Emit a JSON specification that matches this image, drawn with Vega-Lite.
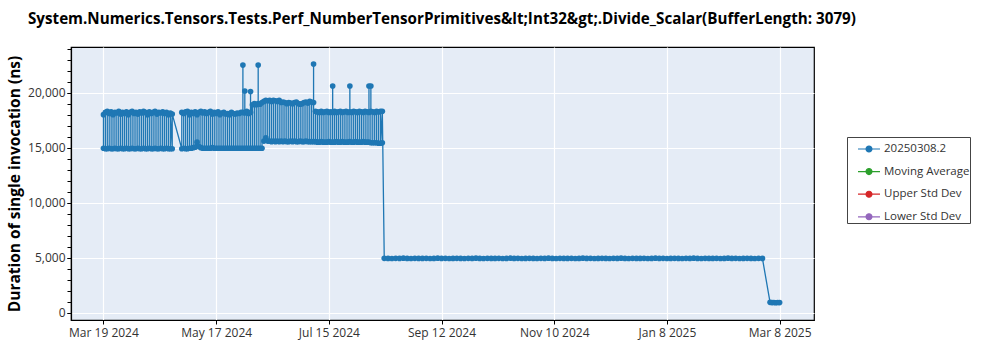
{
 "$schema": "https://vega.github.io/schema/vega-lite/v6.json",
 "autosize": {"type": "none"},
 "padding": {"left": 71, "top": 47, "right": 186, "bottom": 30},
 "width": 743,
 "height": 273,
 "background": "white",
 "config": {
  "view": {"fill": "#E5ECF6", "stroke": "#000", "strokeWidth": 1.2},
  "font": "Open Sans",
  "axis": {"labelFont": "Open Sans", "labelFontSize": 12, "labelColor": "#333", "tickColor": "#000", "tickSize": 4, "domainColor": "#000", "domainWidth": 1.2, "gridColor": "#ffffff", "gridWidth": 1.2, "gridOpacity": 1}
 },
 "title": {"text": "System.Numerics.Tensors.Tests.Perf_NumberTensorPrimitives&lt;Int32&gt;.Divide_Scalar(BufferLength: 3079)", "anchor": "start", "frame": "group", "dx": -43, "font": "Open Sans", "fontSize": 15.2, "fontWeight": "bold", "color": "#000", "offset": 20},
 "data": {"values": [
  {"date":"2024-03-19","ns":18000,"build":"20250308.2"},{"date":"2024-03-19","ns":14950,"build":"20250308.2"},
  {"date":"2024-03-20","ns":14900,"build":"20250308.2"},{"date":"2024-03-20","ns":18200,"build":"20250308.2"},
  {"date":"2024-03-21","ns":18300,"build":"20250308.2"},{"date":"2024-03-21","ns":14900,"build":"20250308.2"},
  {"date":"2024-03-22","ns":14950,"build":"20250308.2"},{"date":"2024-03-22","ns":18100,"build":"20250308.2"},
  {"date":"2024-03-23","ns":18250,"build":"20250308.2"},{"date":"2024-03-23","ns":14900,"build":"20250308.2"},
  {"date":"2024-03-24","ns":14900,"build":"20250308.2"},{"date":"2024-03-24","ns":18000,"build":"20250308.2"},
  {"date":"2024-03-25","ns":18200,"build":"20250308.2"},{"date":"2024-03-25","ns":14950,"build":"20250308.2"},
  {"date":"2024-03-26","ns":14900,"build":"20250308.2"},{"date":"2024-03-26","ns":18150,"build":"20250308.2"},
  {"date":"2024-03-27","ns":18300,"build":"20250308.2"},{"date":"2024-03-27","ns":14900,"build":"20250308.2"},
  {"date":"2024-03-28","ns":14950,"build":"20250308.2"},{"date":"2024-03-28","ns":18050,"build":"20250308.2"},
  {"date":"2024-03-29","ns":18200,"build":"20250308.2"},{"date":"2024-03-29","ns":14900,"build":"20250308.2"},
  {"date":"2024-03-30","ns":14900,"build":"20250308.2"},{"date":"2024-03-30","ns":18100,"build":"20250308.2"},
  {"date":"2024-03-31","ns":18250,"build":"20250308.2"},{"date":"2024-03-31","ns":14950,"build":"20250308.2"},
  {"date":"2024-04-01","ns":14900,"build":"20250308.2"},{"date":"2024-04-01","ns":18000,"build":"20250308.2"},
  {"date":"2024-04-02","ns":18200,"build":"20250308.2"},{"date":"2024-04-02","ns":14900,"build":"20250308.2"},
  {"date":"2024-04-03","ns":14950,"build":"20250308.2"},{"date":"2024-04-03","ns":18300,"build":"20250308.2"},
  {"date":"2024-04-04","ns":18100,"build":"20250308.2"},{"date":"2024-04-04","ns":14900,"build":"20250308.2"},
  {"date":"2024-04-05","ns":14900,"build":"20250308.2"},{"date":"2024-04-05","ns":18200,"build":"20250308.2"},
  {"date":"2024-04-06","ns":18050,"build":"20250308.2"},{"date":"2024-04-06","ns":14950,"build":"20250308.2"},
  {"date":"2024-04-07","ns":14900,"build":"20250308.2"},{"date":"2024-04-07","ns":18250,"build":"20250308.2"},
  {"date":"2024-04-08","ns":18150,"build":"20250308.2"},{"date":"2024-04-08","ns":14900,"build":"20250308.2"},
  {"date":"2024-04-09","ns":14950,"build":"20250308.2"},{"date":"2024-04-09","ns":18300,"build":"20250308.2"},
  {"date":"2024-04-10","ns":18200,"build":"20250308.2"},{"date":"2024-04-10","ns":14900,"build":"20250308.2"},
  {"date":"2024-04-11","ns":14900,"build":"20250308.2"},{"date":"2024-04-11","ns":18000,"build":"20250308.2"},
  {"date":"2024-04-12","ns":18250,"build":"20250308.2"},{"date":"2024-04-12","ns":14950,"build":"20250308.2"},
  {"date":"2024-04-13","ns":14900,"build":"20250308.2"},{"date":"2024-04-13","ns":18100,"build":"20250308.2"},
  {"date":"2024-04-14","ns":18200,"build":"20250308.2"},{"date":"2024-04-14","ns":14900,"build":"20250308.2"},
  {"date":"2024-04-15","ns":14950,"build":"20250308.2"},{"date":"2024-04-15","ns":18300,"build":"20250308.2"},
  {"date":"2024-04-16","ns":18050,"build":"20250308.2"},{"date":"2024-04-16","ns":14900,"build":"20250308.2"},
  {"date":"2024-04-17","ns":14900,"build":"20250308.2"},{"date":"2024-04-17","ns":18200,"build":"20250308.2"},
  {"date":"2024-04-18","ns":18150,"build":"20250308.2"},{"date":"2024-04-18","ns":14950,"build":"20250308.2"},
  {"date":"2024-04-19","ns":14900,"build":"20250308.2"},{"date":"2024-04-19","ns":18250,"build":"20250308.2"},
  {"date":"2024-04-20","ns":18100,"build":"20250308.2"},{"date":"2024-04-20","ns":14900,"build":"20250308.2"},
  {"date":"2024-04-21","ns":14950,"build":"20250308.2"},{"date":"2024-04-21","ns":18200,"build":"20250308.2"},
  {"date":"2024-04-22","ns":18000,"build":"20250308.2"},{"date":"2024-04-22","ns":14900,"build":"20250308.2"},
  {"date":"2024-04-23","ns":14900,"build":"20250308.2"},{"date":"2024-04-23","ns":18150,"build":"20250308.2"},
  {"date":"2024-04-24","ns":14900,"build":"20250308.2"},{"date":"2024-04-24","ns":18050,"build":"20250308.2"},
  {"date":"2024-04-29","ns":14900,"build":"20250308.2"},{"date":"2024-04-29","ns":18200,"build":"20250308.2"},
  {"date":"2024-04-30","ns":18100,"build":"20250308.2"},{"date":"2024-04-30","ns":14950,"build":"20250308.2"},
  {"date":"2024-05-01","ns":14900,"build":"20250308.2"},{"date":"2024-05-01","ns":18250,"build":"20250308.2"},
  {"date":"2024-05-02","ns":18300,"build":"20250308.2"},{"date":"2024-05-02","ns":14900,"build":"20250308.2"},
  {"date":"2024-05-03","ns":14950,"build":"20250308.2"},{"date":"2024-05-03","ns":18000,"build":"20250308.2"},
  {"date":"2024-05-04","ns":18200,"build":"20250308.2"},{"date":"2024-05-04","ns":14950,"build":"20250308.2"},
  {"date":"2024-05-05","ns":15000,"build":"20250308.2"},{"date":"2024-05-05","ns":18100,"build":"20250308.2"},
  {"date":"2024-05-06","ns":18250,"build":"20250308.2"},{"date":"2024-05-06","ns":15050,"build":"20250308.2"},
  {"date":"2024-05-07","ns":15500,"build":"20250308.2"},{"date":"2024-05-07","ns":18000,"build":"20250308.2"},
  {"date":"2024-05-08","ns":18200,"build":"20250308.2"},{"date":"2024-05-08","ns":15100,"build":"20250308.2"},
  {"date":"2024-05-09","ns":15000,"build":"20250308.2"},{"date":"2024-05-09","ns":18300,"build":"20250308.2"},
  {"date":"2024-05-10","ns":18150,"build":"20250308.2"},{"date":"2024-05-10","ns":14950,"build":"20250308.2"},
  {"date":"2024-05-11","ns":14950,"build":"20250308.2"},{"date":"2024-05-11","ns":18250,"build":"20250308.2"},
  {"date":"2024-05-12","ns":18100,"build":"20250308.2"},{"date":"2024-05-12","ns":14950,"build":"20250308.2"},
  {"date":"2024-05-13","ns":14950,"build":"20250308.2"},{"date":"2024-05-13","ns":18200,"build":"20250308.2"},
  {"date":"2024-05-14","ns":18300,"build":"20250308.2"},{"date":"2024-05-14","ns":14950,"build":"20250308.2"},
  {"date":"2024-05-15","ns":15000,"build":"20250308.2"},{"date":"2024-05-15","ns":18050,"build":"20250308.2"},
  {"date":"2024-05-16","ns":18200,"build":"20250308.2"},{"date":"2024-05-16","ns":14950,"build":"20250308.2"},
  {"date":"2024-05-17","ns":14950,"build":"20250308.2"},{"date":"2024-05-17","ns":18100,"build":"20250308.2"},
  {"date":"2024-05-18","ns":18250,"build":"20250308.2"},{"date":"2024-05-18","ns":14950,"build":"20250308.2"},
  {"date":"2024-05-19","ns":14950,"build":"20250308.2"},{"date":"2024-05-19","ns":18000,"build":"20250308.2"},
  {"date":"2024-05-20","ns":18150,"build":"20250308.2"},{"date":"2024-05-20","ns":14950,"build":"20250308.2"},
  {"date":"2024-05-21","ns":14950,"build":"20250308.2"},{"date":"2024-05-21","ns":18200,"build":"20250308.2"},
  {"date":"2024-05-22","ns":18050,"build":"20250308.2"},{"date":"2024-05-22","ns":14950,"build":"20250308.2"},
  {"date":"2024-05-23","ns":14950,"build":"20250308.2"},{"date":"2024-05-23","ns":18100,"build":"20250308.2"},
  {"date":"2024-05-24","ns":18000,"build":"20250308.2"},{"date":"2024-05-24","ns":14950,"build":"20250308.2"},
  {"date":"2024-05-25","ns":14950,"build":"20250308.2"},{"date":"2024-05-25","ns":18200,"build":"20250308.2"},
  {"date":"2024-05-26","ns":18100,"build":"20250308.2"},{"date":"2024-05-26","ns":14950,"build":"20250308.2"},
  {"date":"2024-05-27","ns":14950,"build":"20250308.2"},{"date":"2024-05-27","ns":18050,"build":"20250308.2"},
  {"date":"2024-05-28","ns":18150,"build":"20250308.2"},{"date":"2024-05-28","ns":14950,"build":"20250308.2"},
  {"date":"2024-05-29","ns":14950,"build":"20250308.2"},{"date":"2024-05-29","ns":18100,"build":"20250308.2"},
  {"date":"2024-05-30","ns":18200,"build":"20250308.2"},{"date":"2024-05-30","ns":14950,"build":"20250308.2"},
  {"date":"2024-05-31","ns":14950,"build":"20250308.2"},{"date":"2024-05-31","ns":22500,"build":"20250308.2"},{"date":"2024-05-31","ns":18200,"build":"20250308.2"},
  {"date":"2024-06-01","ns":18150,"build":"20250308.2"},{"date":"2024-06-01","ns":20150,"build":"20250308.2"},{"date":"2024-06-01","ns":14950,"build":"20250308.2"},
  {"date":"2024-06-02","ns":14950,"build":"20250308.2"},{"date":"2024-06-02","ns":18300,"build":"20250308.2"},
  {"date":"2024-06-03","ns":18100,"build":"20250308.2"},{"date":"2024-06-03","ns":14950,"build":"20250308.2"},
  {"date":"2024-06-04","ns":14950,"build":"20250308.2"},{"date":"2024-06-04","ns":20100,"build":"20250308.2"},{"date":"2024-06-04","ns":18200,"build":"20250308.2"},
  {"date":"2024-06-05","ns":18900,"build":"20250308.2"},{"date":"2024-06-05","ns":14950,"build":"20250308.2"},
  {"date":"2024-06-06","ns":14950,"build":"20250308.2"},{"date":"2024-06-06","ns":19000,"build":"20250308.2"},
  {"date":"2024-06-07","ns":18900,"build":"20250308.2"},{"date":"2024-06-07","ns":14950,"build":"20250308.2"},
  {"date":"2024-06-08","ns":14950,"build":"20250308.2"},{"date":"2024-06-08","ns":22500,"build":"20250308.2"},{"date":"2024-06-08","ns":19000,"build":"20250308.2"},
  {"date":"2024-06-09","ns":18950,"build":"20250308.2"},{"date":"2024-06-09","ns":14950,"build":"20250308.2"},
  {"date":"2024-06-10","ns":14950,"build":"20250308.2"},{"date":"2024-06-10","ns":19100,"build":"20250308.2"},
  {"date":"2024-06-11","ns":19200,"build":"20250308.2"},{"date":"2024-06-11","ns":15600,"build":"20250308.2"},
  {"date":"2024-06-12","ns":15900,"build":"20250308.2"},{"date":"2024-06-12","ns":19300,"build":"20250308.2"},
  {"date":"2024-06-13","ns":19250,"build":"20250308.2"},{"date":"2024-06-13","ns":15600,"build":"20250308.2"},
  {"date":"2024-06-14","ns":15600,"build":"20250308.2"},{"date":"2024-06-14","ns":19300,"build":"20250308.2"},
  {"date":"2024-06-15","ns":19200,"build":"20250308.2"},{"date":"2024-06-15","ns":15550,"build":"20250308.2"},
  {"date":"2024-06-16","ns":15600,"build":"20250308.2"},{"date":"2024-06-16","ns":19300,"build":"20250308.2"},
  {"date":"2024-06-17","ns":19250,"build":"20250308.2"},{"date":"2024-06-17","ns":15550,"build":"20250308.2"},
  {"date":"2024-06-18","ns":15600,"build":"20250308.2"},{"date":"2024-06-18","ns":19200,"build":"20250308.2"},
  {"date":"2024-06-19","ns":19300,"build":"20250308.2"},{"date":"2024-06-19","ns":15550,"build":"20250308.2"},
  {"date":"2024-06-20","ns":15600,"build":"20250308.2"},{"date":"2024-06-20","ns":19100,"build":"20250308.2"},
  {"date":"2024-06-21","ns":19150,"build":"20250308.2"},{"date":"2024-06-21","ns":15550,"build":"20250308.2"},
  {"date":"2024-06-22","ns":15600,"build":"20250308.2"},{"date":"2024-06-22","ns":19100,"build":"20250308.2"},
  {"date":"2024-06-23","ns":19000,"build":"20250308.2"},{"date":"2024-06-23","ns":15550,"build":"20250308.2"},
  {"date":"2024-06-24","ns":15550,"build":"20250308.2"},{"date":"2024-06-24","ns":19100,"build":"20250308.2"},
  {"date":"2024-06-25","ns":19050,"build":"20250308.2"},{"date":"2024-06-25","ns":15600,"build":"20250308.2"},
  {"date":"2024-06-26","ns":15550,"build":"20250308.2"},{"date":"2024-06-26","ns":19000,"build":"20250308.2"},
  {"date":"2024-06-27","ns":19100,"build":"20250308.2"},{"date":"2024-06-27","ns":15600,"build":"20250308.2"},
  {"date":"2024-06-28","ns":15550,"build":"20250308.2"},{"date":"2024-06-28","ns":19150,"build":"20250308.2"},
  {"date":"2024-06-29","ns":19000,"build":"20250308.2"},{"date":"2024-06-29","ns":15550,"build":"20250308.2"},
  {"date":"2024-06-30","ns":15600,"build":"20250308.2"},{"date":"2024-06-30","ns":18950,"build":"20250308.2"},
  {"date":"2024-07-01","ns":19000,"build":"20250308.2"},{"date":"2024-07-01","ns":15550,"build":"20250308.2"},
  {"date":"2024-07-02","ns":15550,"build":"20250308.2"},{"date":"2024-07-02","ns":19100,"build":"20250308.2"},
  {"date":"2024-07-03","ns":19150,"build":"20250308.2"},{"date":"2024-07-03","ns":15600,"build":"20250308.2"},
  {"date":"2024-07-04","ns":15550,"build":"20250308.2"},{"date":"2024-07-04","ns":19050,"build":"20250308.2"},
  {"date":"2024-07-05","ns":19200,"build":"20250308.2"},{"date":"2024-07-05","ns":15550,"build":"20250308.2"},
  {"date":"2024-07-06","ns":15550,"build":"20250308.2"},{"date":"2024-07-06","ns":19150,"build":"20250308.2"},
  {"date":"2024-07-07","ns":19100,"build":"20250308.2"},{"date":"2024-07-07","ns":22600,"build":"20250308.2"},{"date":"2024-07-07","ns":15550,"build":"20250308.2"},
  {"date":"2024-07-08","ns":15550,"build":"20250308.2"},{"date":"2024-07-08","ns":18300,"build":"20250308.2"},
  {"date":"2024-07-09","ns":18250,"build":"20250308.2"},{"date":"2024-07-09","ns":15500,"build":"20250308.2"},
  {"date":"2024-07-10","ns":15500,"build":"20250308.2"},{"date":"2024-07-10","ns":18200,"build":"20250308.2"},
  {"date":"2024-07-11","ns":18300,"build":"20250308.2"},{"date":"2024-07-11","ns":15550,"build":"20250308.2"},
  {"date":"2024-07-12","ns":15500,"build":"20250308.2"},{"date":"2024-07-12","ns":18200,"build":"20250308.2"},
  {"date":"2024-07-13","ns":18250,"build":"20250308.2"},{"date":"2024-07-13","ns":15500,"build":"20250308.2"},
  {"date":"2024-07-14","ns":15500,"build":"20250308.2"},{"date":"2024-07-14","ns":18300,"build":"20250308.2"},
  {"date":"2024-07-15","ns":18200,"build":"20250308.2"},{"date":"2024-07-15","ns":15550,"build":"20250308.2"},
  {"date":"2024-07-16","ns":15500,"build":"20250308.2"},{"date":"2024-07-16","ns":18250,"build":"20250308.2"},
  {"date":"2024-07-17","ns":18200,"build":"20250308.2"},{"date":"2024-07-17","ns":20600,"build":"20250308.2"},{"date":"2024-07-17","ns":15500,"build":"20250308.2"},
  {"date":"2024-07-18","ns":15500,"build":"20250308.2"},{"date":"2024-07-18","ns":18300,"build":"20250308.2"},
  {"date":"2024-07-19","ns":18200,"build":"20250308.2"},{"date":"2024-07-19","ns":15550,"build":"20250308.2"},
  {"date":"2024-07-20","ns":15500,"build":"20250308.2"},{"date":"2024-07-20","ns":18250,"build":"20250308.2"},
  {"date":"2024-07-21","ns":18300,"build":"20250308.2"},{"date":"2024-07-21","ns":15500,"build":"20250308.2"},
  {"date":"2024-07-22","ns":15550,"build":"20250308.2"},{"date":"2024-07-22","ns":18200,"build":"20250308.2"},
  {"date":"2024-07-23","ns":18250,"build":"20250308.2"},{"date":"2024-07-23","ns":15500,"build":"20250308.2"},
  {"date":"2024-07-24","ns":15500,"build":"20250308.2"},{"date":"2024-07-24","ns":18300,"build":"20250308.2"},
  {"date":"2024-07-25","ns":18200,"build":"20250308.2"},{"date":"2024-07-25","ns":15500,"build":"20250308.2"},
  {"date":"2024-07-26","ns":15550,"build":"20250308.2"},{"date":"2024-07-26","ns":20600,"build":"20250308.2"},{"date":"2024-07-26","ns":18250,"build":"20250308.2"},
  {"date":"2024-07-27","ns":18200,"build":"20250308.2"},{"date":"2024-07-27","ns":15500,"build":"20250308.2"},
  {"date":"2024-07-28","ns":15500,"build":"20250308.2"},{"date":"2024-07-28","ns":18300,"build":"20250308.2"},
  {"date":"2024-07-29","ns":18250,"build":"20250308.2"},{"date":"2024-07-29","ns":15550,"build":"20250308.2"},
  {"date":"2024-07-30","ns":15500,"build":"20250308.2"},{"date":"2024-07-30","ns":18200,"build":"20250308.2"},
  {"date":"2024-07-31","ns":18300,"build":"20250308.2"},{"date":"2024-07-31","ns":15500,"build":"20250308.2"},
  {"date":"2024-08-01","ns":15500,"build":"20250308.2"},{"date":"2024-08-01","ns":18250,"build":"20250308.2"},
  {"date":"2024-08-02","ns":18200,"build":"20250308.2"},{"date":"2024-08-02","ns":15550,"build":"20250308.2"},
  {"date":"2024-08-03","ns":15500,"build":"20250308.2"},{"date":"2024-08-03","ns":18300,"build":"20250308.2"},
  {"date":"2024-08-04","ns":18250,"build":"20250308.2"},{"date":"2024-08-04","ns":15500,"build":"20250308.2"},
  {"date":"2024-08-05","ns":15500,"build":"20250308.2"},{"date":"2024-08-05","ns":20600,"build":"20250308.2"},{"date":"2024-08-05","ns":18200,"build":"20250308.2"},
  {"date":"2024-08-06","ns":18300,"build":"20250308.2"},{"date":"2024-08-06","ns":20600,"build":"20250308.2"},{"date":"2024-08-06","ns":15450,"build":"20250308.2"},
  {"date":"2024-08-07","ns":15450,"build":"20250308.2"},{"date":"2024-08-07","ns":18250,"build":"20250308.2"},
  {"date":"2024-08-08","ns":18200,"build":"20250308.2"},{"date":"2024-08-08","ns":15450,"build":"20250308.2"},
  {"date":"2024-08-09","ns":15450,"build":"20250308.2"},{"date":"2024-08-09","ns":18300,"build":"20250308.2"},
  {"date":"2024-08-10","ns":18250,"build":"20250308.2"},{"date":"2024-08-10","ns":15400,"build":"20250308.2"},
  {"date":"2024-08-11","ns":15400,"build":"20250308.2"},{"date":"2024-08-11","ns":18300,"build":"20250308.2"},
  {"date":"2024-08-12","ns":15450,"build":"20250308.2"},{"date":"2024-08-12","ns":18300,"build":"20250308.2"},
  {"date":"2024-08-13","ns":4960,"build":"20250308.2"},{"date":"2024-08-15","ns":4950,"build":"20250308.2"},
  {"date":"2024-08-17","ns":4940,"build":"20250308.2"},{"date":"2024-08-19","ns":4960,"build":"20250308.2"},
  {"date":"2024-08-21","ns":4950,"build":"20250308.2"},{"date":"2024-08-23","ns":4970,"build":"20250308.2"},
  {"date":"2024-08-25","ns":4950,"build":"20250308.2"},{"date":"2024-08-27","ns":4940,"build":"20250308.2"},
  {"date":"2024-08-29","ns":4960,"build":"20250308.2"},{"date":"2024-08-31","ns":4950,"build":"20250308.2"},
  {"date":"2024-09-02","ns":4950,"build":"20250308.2"},{"date":"2024-09-04","ns":4960,"build":"20250308.2"},
  {"date":"2024-09-06","ns":4940,"build":"20250308.2"},{"date":"2024-09-08","ns":4950,"build":"20250308.2"},
  {"date":"2024-09-10","ns":4970,"build":"20250308.2"},{"date":"2024-09-12","ns":4950,"build":"20250308.2"},
  {"date":"2024-09-14","ns":4960,"build":"20250308.2"},{"date":"2024-09-16","ns":4940,"build":"20250308.2"},
  {"date":"2024-09-18","ns":4950,"build":"20250308.2"},{"date":"2024-09-20","ns":4960,"build":"20250308.2"},
  {"date":"2024-09-22","ns":4950,"build":"20250308.2"},{"date":"2024-09-24","ns":4940,"build":"20250308.2"},
  {"date":"2024-09-26","ns":4960,"build":"20250308.2"},{"date":"2024-09-28","ns":4950,"build":"20250308.2"},
  {"date":"2024-09-30","ns":4970,"build":"20250308.2"},{"date":"2024-10-02","ns":4950,"build":"20250308.2"},
  {"date":"2024-10-04","ns":4940,"build":"20250308.2"},{"date":"2024-10-06","ns":4960,"build":"20250308.2"},
  {"date":"2024-10-08","ns":4950,"build":"20250308.2"},{"date":"2024-10-10","ns":4950,"build":"20250308.2"},
  {"date":"2024-10-12","ns":4960,"build":"20250308.2"},{"date":"2024-10-14","ns":4940,"build":"20250308.2"},
  {"date":"2024-10-16","ns":4950,"build":"20250308.2"},{"date":"2024-10-18","ns":4970,"build":"20250308.2"},
  {"date":"2024-10-20","ns":4950,"build":"20250308.2"},{"date":"2024-10-22","ns":4960,"build":"20250308.2"},
  {"date":"2024-10-24","ns":4940,"build":"20250308.2"},{"date":"2024-10-26","ns":4950,"build":"20250308.2"},
  {"date":"2024-10-28","ns":4960,"build":"20250308.2"},{"date":"2024-10-30","ns":4950,"build":"20250308.2"},
  {"date":"2024-11-01","ns":4940,"build":"20250308.2"},{"date":"2024-11-03","ns":4960,"build":"20250308.2"},
  {"date":"2024-11-05","ns":4950,"build":"20250308.2"},{"date":"2024-11-07","ns":4970,"build":"20250308.2"},
  {"date":"2024-11-09","ns":4950,"build":"20250308.2"},{"date":"2024-11-11","ns":4940,"build":"20250308.2"},
  {"date":"2024-11-13","ns":4960,"build":"20250308.2"},{"date":"2024-11-15","ns":4950,"build":"20250308.2"},
  {"date":"2024-11-17","ns":4950,"build":"20250308.2"},{"date":"2024-11-19","ns":4960,"build":"20250308.2"},
  {"date":"2024-11-21","ns":4940,"build":"20250308.2"},{"date":"2024-11-23","ns":4950,"build":"20250308.2"},
  {"date":"2024-11-25","ns":4970,"build":"20250308.2"},{"date":"2024-11-27","ns":4950,"build":"20250308.2"},
  {"date":"2024-11-29","ns":4960,"build":"20250308.2"},{"date":"2024-12-01","ns":4940,"build":"20250308.2"},
  {"date":"2024-12-03","ns":4950,"build":"20250308.2"},{"date":"2024-12-05","ns":4960,"build":"20250308.2"},
  {"date":"2024-12-07","ns":4950,"build":"20250308.2"},{"date":"2024-12-09","ns":4940,"build":"20250308.2"},
  {"date":"2024-12-11","ns":4960,"build":"20250308.2"},{"date":"2024-12-13","ns":4950,"build":"20250308.2"},
  {"date":"2024-12-15","ns":4970,"build":"20250308.2"},{"date":"2024-12-17","ns":4950,"build":"20250308.2"},
  {"date":"2024-12-19","ns":4940,"build":"20250308.2"},{"date":"2024-12-21","ns":4960,"build":"20250308.2"},
  {"date":"2024-12-23","ns":4950,"build":"20250308.2"},{"date":"2024-12-25","ns":4950,"build":"20250308.2"},
  {"date":"2024-12-27","ns":4960,"build":"20250308.2"},{"date":"2024-12-29","ns":4940,"build":"20250308.2"},
  {"date":"2024-12-31","ns":4950,"build":"20250308.2"},{"date":"2025-01-02","ns":4970,"build":"20250308.2"},
  {"date":"2025-01-04","ns":4950,"build":"20250308.2"},{"date":"2025-01-06","ns":4960,"build":"20250308.2"},
  {"date":"2025-01-08","ns":4940,"build":"20250308.2"},{"date":"2025-01-10","ns":4950,"build":"20250308.2"},
  {"date":"2025-01-12","ns":4960,"build":"20250308.2"},{"date":"2025-01-14","ns":4950,"build":"20250308.2"},
  {"date":"2025-01-16","ns":4940,"build":"20250308.2"},{"date":"2025-01-18","ns":4960,"build":"20250308.2"},
  {"date":"2025-01-20","ns":4950,"build":"20250308.2"},{"date":"2025-01-22","ns":4970,"build":"20250308.2"},
  {"date":"2025-01-24","ns":4950,"build":"20250308.2"},{"date":"2025-01-26","ns":4940,"build":"20250308.2"},
  {"date":"2025-01-28","ns":4960,"build":"20250308.2"},{"date":"2025-01-30","ns":4950,"build":"20250308.2"},
  {"date":"2025-02-01","ns":4950,"build":"20250308.2"},{"date":"2025-02-03","ns":4960,"build":"20250308.2"},
  {"date":"2025-02-05","ns":4940,"build":"20250308.2"},{"date":"2025-02-07","ns":4950,"build":"20250308.2"},
  {"date":"2025-02-09","ns":4970,"build":"20250308.2"},{"date":"2025-02-11","ns":4950,"build":"20250308.2"},
  {"date":"2025-02-13","ns":4960,"build":"20250308.2"},{"date":"2025-02-15","ns":4940,"build":"20250308.2"},
  {"date":"2025-02-17","ns":4950,"build":"20250308.2"},{"date":"2025-02-19","ns":4960,"build":"20250308.2"},
  {"date":"2025-02-21","ns":4950,"build":"20250308.2"},{"date":"2025-02-23","ns":4940,"build":"20250308.2"},
  {"date":"2025-02-25","ns":4960,"build":"20250308.2"},{"date":"2025-02-27","ns":4950,"build":"20250308.2"},
  {"date":"2025-03-03","ns":960,"build":"20250308.2"},{"date":"2025-03-04","ns":940,"build":"20250308.2"},
  {"date":"2025-03-05","ns":950,"build":"20250308.2"},{"date":"2025-03-06","ns":930,"build":"20250308.2"},
  {"date":"2025-03-07","ns":950,"build":"20250308.2"},{"date":"2025-03-08","ns":940,"build":"20250308.2"}
 ]},
 "encoding": {
  "x": {"field": "date", "type": "temporal", "title": null,
   "scale": {"type": "utc", "domain": [{"year": 2024, "month": 3, "date": 2, "utc": true}, {"year": 2025, "month": 3, "date": 26, "utc": true}]},
   "axis": {"values": [{"year": 2024, "month": 3, "date": 19, "utc": true}, {"year": 2024, "month": 5, "date": 17, "utc": true}, {"year": 2024, "month": 7, "date": 15, "utc": true}, {"year": 2024, "month": 9, "date": 12, "utc": true}, {"year": 2024, "month": 11, "date": 10, "utc": true}, {"year": 2025, "month": 1, "date": 8, "utc": true}, {"year": 2025, "month": 3, "date": 8, "utc": true}],
    "labelExpr": "utcFormat(datum.value, '%b %-d %Y')", "grid": true, "labelPadding": 3, "labelFlush": false}
  }
 },
 "layer": [
  {
   "mark": {"type": "line", "strokeWidth": 1.3, "opacity": 1, "point": {"filled": true, "size": 32, "opacity": 1}},
   "encoding": {
    "y": {"field": "ns", "type": "quantitative", "title": "Duration of single invocation (ns)",
     "scale": {"domain": [-640, 24140], "nice": false, "zero": false},
     "axis": {"values": [0, 5000, 10000, 15000, 20000], "labelExpr": "format(datum.value, ',')", "grid": true, "labelPadding": 2,
      "titleFont": "Open Sans", "titleFontSize": 15.5, "titleFontWeight": "bold", "titleColor": "#000", "titleX": -57, "titleBaseline": "middle"}},
    "color": {"field": "build", "type": "nominal",
     "scale": {"domain": ["20250308.2", "Moving Average", "Upper Std Dev", "Lower Std Dev"], "range": ["#1f77b4", "#2ca02c", "#d62728", "#9467bd"]},
     "legend": {"orient": "none", "legendX": 776, "legendY": 90, "title": null,
      "symbolType": "M-1,0H1M-0.27,0A0.27,0.27,0,1,0,0.27,0A0.27,0.27,0,1,0,-0.27,0Z",
      "symbolSize": 484, "symbolStrokeWidth": 1.2, "labelFont": "Open Sans", "labelFontSize": 11.5, "labelColor": "#333",
      "padding": 0, "symbolOffset": 10, "rowPadding": 4.6, "strokeColor": "#444", "fillColor": "#fff", "labelOffset": 3,
      "encode": {"symbols": {"update": {"fill": {"scale": "color", "field": "value"}, "stroke": {"scale": "color", "field": "value"}}}}}
    }
   }
  },
  {
   "mark": {"type": "point", "opacity": 0},
   "encoding": {
    "y": {"field": "ns", "type": "quantitative",
     "axis": {"orient": "left", "values": [0, 1000, 2000, 3000, 4000, 5000, 6000, 7000, 8000, 9000, 10000, 11000, 12000, 13000, 14000, 15000, 16000, 17000, 18000, 19000, 20000, 21000, 22000, 23000, 24000], "labels": false, "grid": false, "domain": false, "title": null, "tickSize": 4}}
   }
  }
 ],
 "resolve": {"axis": {"y": "independent"}}
}
